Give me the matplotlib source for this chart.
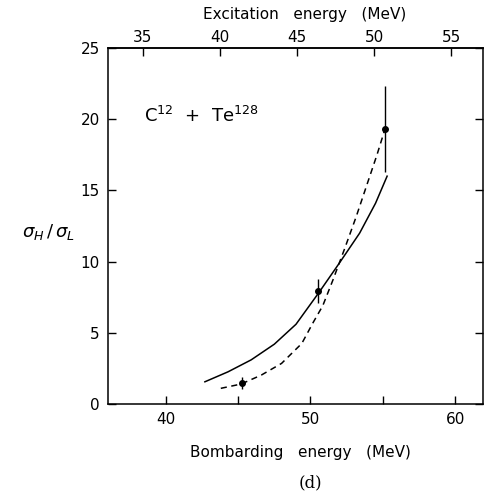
import numpy as np
import matplotlib.pyplot as plt

solid_e = [42.7, 44.3, 45.9, 47.5, 49.0, 50.6, 52.0, 53.4, 54.5, 55.3]
solid_r = [1.56, 2.26, 3.1, 4.2, 5.6, 7.85, 9.9, 12.0, 14.1, 16.0]

dash_e = [43.8, 45.2, 46.6, 48.0, 49.4, 50.2, 50.85, 51.55, 52.36, 53.16, 53.97, 54.6, 55.15]
dash_r = [1.10, 1.40, 2.03, 2.85, 4.25, 5.75, 6.9, 8.7, 10.9, 13.15, 15.6, 17.5, 19.3]

pt_e = [45.25, 50.55, 55.15]
pt_r = [1.47, 7.93, 19.3]
pt_err = [0.4, 0.85, 3.0]

bottom_ticks = [40, 45, 50, 55, 60]
bottom_labels = ["40", "", "50", "", "60"]
top_ticks = [35, 40, 45, 50, 55]
y_ticks = [0, 5, 10, 15, 20, 25]

plt.rcParams['font.family'] = 'DejaVu Sans'
plt.rcParams['mathtext.fontset'] = 'dejavusans'

fig = plt.figure(figsize=(4.84, 4.93), dpi=100)
ax = fig.add_axes([108/484, 1-404/493, 375/484, 356/493])

ax.plot(solid_e, solid_r, color='black', lw=1.1)
ax.plot(dash_e, dash_r, color='black', lw=1.1, dashes=(4, 3))
ax.errorbar(pt_e, pt_r, yerr=pt_err, fmt='o', color='black', ms=4, elinewidth=1.0, capsize=0)

ax.set_xlim(36, 61.93)
ax.set_ylim(0, 25)

for s in ax.spines.values():
    s.set_linewidth(1.1)

ax.set_xticks(bottom_ticks)
ax.set_xticklabels(bottom_labels)
ax.set_yticks(y_ticks)
ax.tick_params(axis='both', direction='in', length=6, width=1.0, labelsize=11, pad=6)
ax.tick_params(axis='y', right=True, labelright=False)

def to_exc(e):
    return 0.9385 * np.asarray(e) - 1.05

def to_lab(x):
    return (np.asarray(x) + 1.05) / 0.9385

sec = ax.secondary_xaxis('top', functions=(to_exc, to_lab))
sec.set_xticks(top_ticks)
sec.tick_params(direction='in', length=6, width=1.0, labelsize=11, pad=2)
sec.spines['top'].set_linewidth(1.1)

ax.text(38.5, 20.2, r'C$^{12}$  +  Te$^{128}$', fontsize=13, va='center')

fig.text(305/484, 1-15/493, 'Excitation   energy   (MeV)', ha='center', va='center', fontsize=11)
fig.text(300/484, 1-453/493, 'Bombarding   energy   (MeV)', ha='center', va='center', fontsize=11)
fig.text(48/484, 1-232/493, r'$\sigma_H\,/\,\sigma_L$', ha='center', va='center', fontsize=13)
fig.text(310/484, 1-483/493, '(d)', ha='center', va='center', fontsize=12, family='DejaVu Serif')

fig.savefig('out.png', dpi=100)
